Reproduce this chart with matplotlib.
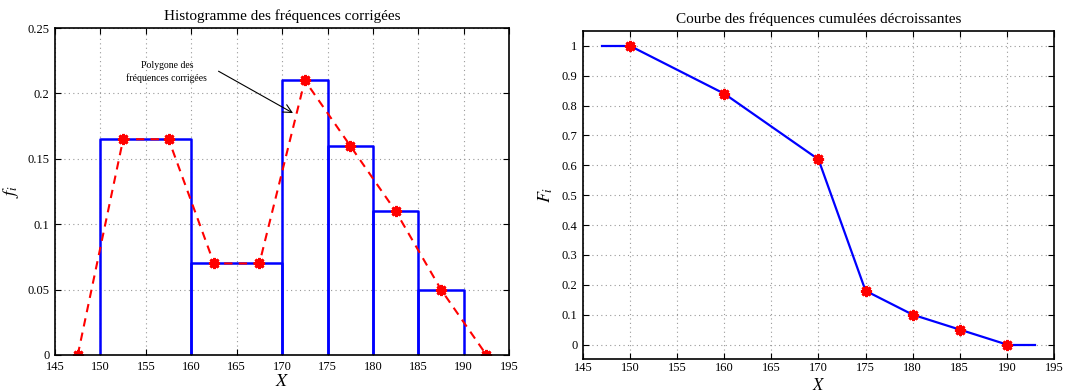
import matplotlib
matplotlib.use("Agg")
import matplotlib.pyplot as plt
from matplotlib.ticker import FuncFormatter

plt.rcParams['font.family'] = ['Liberation Serif', 'DejaVu Serif']
plt.rcParams['mathtext.fontset'] = 'stix'

# histogram classes
edges = [150, 160, 170, 175, 180, 185, 190]
freq = [0.165, 0.07, 0.21, 0.16, 0.11, 0.05]

# polygon of corrected frequencies
poly_x = [147.5, 152.5, 157.5, 162.5, 167.5, 172.5, 177.5, 182.5, 187.5, 192.5]
poly_y = [0, 0.165, 0.165, 0.07, 0.07, 0.21, 0.16, 0.11, 0.05, 0]

# decreasing cumulative frequencies
cum_x = [150, 160, 170, 175, 180, 185, 190]
cum_y = [1, 0.84, 0.62, 0.18, 0.10, 0.05, 0]
ext_left = [147, 150]
ext_right = [190, 193]

fmt = FuncFormatter(lambda v, p: ('%g' % round(v, 4)))
star = (8, 2, 0)

fig = plt.figure(figsize=(10.71, 3.92), dpi=100)
ax1 = fig.add_axes([0.0514, 0.0944, 0.424, 0.834])
ax2 = fig.add_axes([0.5443, 0.083, 0.4398, 0.838])

# left: histogram
for i in range(len(freq)):
    ax1.plot([edges[i], edges[i], edges[i + 1], edges[i + 1]],
             [0, freq[i], freq[i], 0], color='#0000ff', lw=1.8)
ax1.plot(poly_x, poly_y, '--', color='red', lw=1.5, dashes=(4, 3),
         marker=star, markersize=8, markeredgewidth=2)
ax1.set_xlim(145, 195)
ax1.set_ylim(0, 0.25)
ax1.set_xticks(range(145, 196, 5))
ax1.set_yticks([0, 0.05, 0.1, 0.15, 0.2, 0.25])
ax1.yaxis.set_major_formatter(fmt)
ax1.set_title('Histogramme des fréquences corrigées', fontsize=11, pad=6)
ax1.set_xlabel('$X$', fontsize=13)
ax1.set_ylabel('$f_i$', fontsize=13)
ax1.xaxis.set_label_coords(0.5, -0.055)
ax1.yaxis.set_label_coords(-0.075, 0.5)
ax1.text(157.3, 0.2165, 'Polygone des\nfréquences corrigées', fontsize=7,
         ha='center', va='center', linespacing=1.4)
ax1.annotate('', xy=(171.2, 0.185), xytext=(163.0, 0.217),
             arrowprops=dict(arrowstyle='->,head_length=0.6,head_width=0.3',
                             color='black', lw=0.8, shrinkA=0, shrinkB=0))

# right: cumulative curve
ax2.plot(ext_left, [cum_y[0], cum_y[0]], color='#0000ff', lw=1.6)
ax2.plot(ext_right, [cum_y[-1], cum_y[-1]], color='#0000ff', lw=1.6)
ax2.plot(cum_x, cum_y, color='#0000ff', lw=1.6, marker=star,
         markersize=8, markerfacecolor='red', markeredgecolor='red',
         markeredgewidth=2)
ax2.set_xlim(145, 195)
ax2.set_ylim(-0.05, 1.05)
ax2.set_xticks(range(145, 196, 5))
ax2.set_yticks([0, 0.1, 0.2, 0.3, 0.4, 0.5, 0.6, 0.7, 0.8, 0.9, 1])
ax2.yaxis.set_major_formatter(fmt)
ax2.set_title('Courbe des fréquences cumulées décroissantes', fontsize=11, pad=6)
ax2.set_xlabel('$X$', fontsize=12)
ax2.set_ylabel('$F_i$', fontsize=13)
ax2.xaxis.set_label_coords(0.5, -0.055)
ax2.yaxis.set_label_coords(-0.06, 0.5)

for ax in (ax1, ax2):
    ax.grid(True, linestyle=(0, (1, 3)), color='#999999', lw=0.8)
    ax.tick_params(direction='in', top=True, right=True, labelsize=9,
                   length=4)
    ax.tick_params(axis='x', pad=4)
    ax.tick_params(axis='y', pad=4)
    for s in ax.spines.values():
        s.set_linewidth(1.2)
ax2.tick_params(axis='x', pad=2)

fig.savefig('out.png', dpi=100)
